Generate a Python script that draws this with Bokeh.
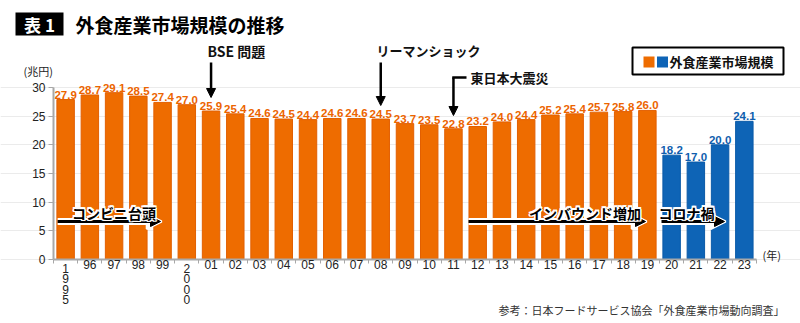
from bokeh.plotting import figure
from bokeh.models import Range1d, FixedTicker, Label, Arrow, NormalHead, ColumnDataSource
from bokeh.embed import file_html
from bokeh.resources import INLINE
from bokeh.core.properties import value

# ---- data ----
years = ["1995", "96", "97", "98", "99", "2000", "01", "02", "03", "04", "05", "06", "07",
         "08", "09", "10", "11", "12", "13", "14", "15", "16", "17", "18", "19",
         "20", "21", "22", "23"]
tick_labels = ["1\n9\n9\n5", "96", "97", "98", "99", "2\n0\n0\n0", "01", "02", "03", "04", "05",
               "06", "07", "08", "09", "10", "11", "12", "13", "14", "15", "16", "17", "18",
               "19", "20", "21", "22", "23"]
market = [27.9, 28.7, 29.1, 28.5, 27.4, 27.0, 25.9, 25.4, 24.6, 24.5, 24.4, 24.6, 24.6,
          24.5, 23.7, 23.5, 22.8, 23.2, 24.0, 24.4, 25.2, 25.4, 25.7, 25.8, 26.0,
          18.2, 17.0, 20.0, 24.1]
covid_years = ["20", "21", "22", "23"]
y_ticks = [0, 5, 10, 15, 20, 25, 30]

ORANGE = "#EE6C00"
ORANGE_EDGE = "#E25F00"
ORANGE_TXT = "#EC6400"
BLUE = "#0E64B6"
BLUE_EDGE = "#0A5AA8"
BLUE_TXT = "#0F5EAE"

JP = "Noto Sans CJK JP"
NUM = "Liberation Sans"

n = len(years)
xs = list(range(n))
is_covid = [y in covid_years for y in years]
vertical = ["\n" in t for t in tick_labels]
src = ColumnDataSource(dict(
    x=xs, v=market,
    label=[f"{v:.1f}" for v in market],
    fill=[BLUE if c else ORANGE for c in is_covid],
    edge=[BLUE_EDGE if c else ORANGE_EDGE for c in is_covid],
    tcol=[BLUE_TXT if c else ORANGE_TXT for c in is_covid],
))
vsrc = ColumnDataSource(dict(
    x=[x for x, vt in zip(xs, vertical) if vt],
    y=[0 for vt in vertical if vt],
    t=[t for t, vt in zip(tick_labels, vertical) if vt],
))

# ---- layout geometry: the frame covers the whole 800x323 canvas ----
W, H = 800, 323
AXIS_LEFT_PX, AXIS_BOTTOM_PX = 53, 259
PX_PER_X = 24.24
PX_PER_Y = 172 / 30.0
X0 = -0.5 - AXIS_LEFT_PX / PX_PER_X
X1 = X0 + W / PX_PER_X
Y0 = -(H - AXIS_BOTTOM_PX) / PX_PER_Y
Y1 = AXIS_BOTTOM_PX / PX_PER_Y


def FX(px):
    return px / PX_PER_X + X0


def FY(py):
    return (H - py) / PX_PER_Y + Y0


p = figure(width=W, height=H, output_backend="svg", toolbar_location=None,
           x_range=Range1d(X0, X1), y_range=Range1d(Y0, Y1),
           min_border=0, min_border_left=0, min_border_right=0, min_border_top=0,
           min_border_bottom=0)
p.outline_line_color = None
p.background_fill_color = "white"
p.border_fill_color = "white"

# grid
p.xgrid.visible = False
p.ygrid.ticker = FixedTicker(ticks=y_ticks)
p.ygrid.grid_line_color = "#ebebeb"
p.ygrid.bounds = (-0.5, n - 0.5)

AXIS_C = "#a8a8a8"
# y axis (drawn inside the full-canvas frame)
p.yaxis.fixed_location = -0.5
p.yaxis.ticker = FixedTicker(ticks=y_ticks)
p.yaxis.bounds = (0, 30)
p.yaxis.axis_line_color = AXIS_C
p.yaxis.axis_line_width = 2
p.yaxis.major_tick_line_color = AXIS_C
p.yaxis.major_tick_out = 5
p.yaxis.major_tick_in = 0
p.yaxis.minor_tick_line_color = None
p.yaxis.major_label_text_font = NUM
p.yaxis.major_label_text_font_size = "12px"
p.yaxis.major_label_text_color = "#222222"
p.yaxis.major_label_standoff = 3

# x axis
p.xaxis.fixed_location = 0
p.xaxis.ticker = FixedTicker(ticks=xs, minor_ticks=[i - 0.5 for i in range(n + 1)])
p.xaxis.bounds = (-0.5, n - 0.5)
p.xaxis.major_label_overrides = {i: ("" if vt else t)
                                 for i, (t, vt) in enumerate(zip(tick_labels, vertical))}
p.xaxis.axis_line_color = AXIS_C
p.xaxis.axis_line_width = 2
p.xaxis.major_tick_line_color = None
p.xaxis.major_tick_out = 0
p.xaxis.major_tick_in = 0
p.xaxis.minor_tick_line_color = AXIS_C
p.xaxis.minor_tick_out = 4
p.xaxis.minor_tick_in = 0
p.xaxis.major_label_text_font = NUM
p.xaxis.major_label_text_font_size = "12px"
p.xaxis.major_label_text_color = "#222222"
p.xaxis.major_label_standoff = -4

# vertical year labels (1995, 2000) stacked digit by digit
p.text(x="x", y="y", text="t", source=vsrc, text_align="center", text_baseline="top",
       y_offset=2, text_font=value(NUM), text_font_size="12px", text_color="#222222",
       text_line_height=0.76)

# bars
p.vbar(x="x", top="v", width=0.72, fill_color="fill", line_color="edge", line_width=1, source=src)

# value labels
p.text(x="x", y="v", text="label", text_color="tcol", text_align="center",
       text_baseline="bottom", y_offset=-1,
       text_font=value("Liberation Sans Narrow, Liberation Sans"),
       text_font_style="bold", text_font_size="11.5px", source=src)

# ---- horizontal trend arrows with white halo ----
ARROW_Y = FY(221)
HALO = [(-1.5, 0), (1.5, 0), (0, -1.5), (0, 1.5), (-1.2, -1.2), (1.2, -1.2), (-1.2, 1.2), (1.2, 1.2)]
trend = [(-0.33, FX(160), "コンビニ台頭", FX(113.5)),
         (FX(468), FX(645), "インバウンド増加", FX(584.5)),
         (FX(661), FX(724), "コロナ禍", FX(686))]
for xs0, xs1, txt, tx in trend:
    p.add_layout(Arrow(x_start=xs0, y_start=ARROW_Y, x_end=xs1 + 0.05, y_end=ARROW_Y,
                       line_color="white", line_width=7,
                       end=NormalHead(size=15, fill_color="white", line_color="white", line_width=2)))
    p.add_layout(Arrow(x_start=xs0, y_start=ARROW_Y, x_end=xs1, y_end=ARROW_Y,
                       line_color="black", line_width=3,
                       end=NormalHead(size=10, fill_color="black", line_color="black")))
    for dx, dy in HALO:
        p.add_layout(Label(x=tx, y=FY(212), x_offset=dx, y_offset=dy, text=txt,
                           text_align="center", text_baseline="middle",
                           text_font=JP, text_font_style="bold", text_font_size="14px",
                           text_color="white"))
    p.add_layout(Label(x=tx, y=FY(212), text=txt, text_align="center", text_baseline="middle",
                       text_font=JP, text_font_style="bold", text_font_size="14px",
                       text_color="black"))

# ---- event annotations ----
EV_Y = FY(50)
p.add_layout(Label(x=FX(207), y=EV_Y, text="BSE 問題", text_baseline="middle",
                   text_font=JP, text_font_style="bold", text_font_size="14px", text_color="#111111"))
p.add_layout(Arrow(x_start=6, y_start=FY(62), x_end=6, y_end=FY(97), line_width=2.5,
                   end=NormalHead(size=9, fill_color="black", line_color="black")))

p.add_layout(Label(x=FX(376), y=EV_Y, text="リーマンショック", text_baseline="middle",
                   text_font=JP, text_font_style="bold", text_font_size="13px", text_color="#111111"))
p.add_layout(Arrow(x_start=13, y_start=FY(62), x_end=13, y_end=FY(105), line_width=2.5,
                   end=NormalHead(size=9, fill_color="black", line_color="black")))

QY = FY(77)
p.add_layout(Label(x=FX(470), y=QY, text="東日本大震災", text_baseline="middle",
                   text_font=JP, text_font_style="bold", text_font_size="13px", text_color="#111111"))
p.add_layout(Arrow(x_start=FX(466), y_start=QY, x_end=16 - 0.05, y_end=QY, line_width=2.5, end=None))
p.add_layout(Arrow(x_start=16, y_start=QY, x_end=16, y_end=FY(115), line_width=2.5,
                   end=NormalHead(size=9, fill_color="black", line_color="black")))

# ---- legend (custom) ----
p.rect(x=[FX(707.5)], y=[FY(60.5)], width=151, height=27, width_units="screen",
       height_units="screen", fill_color="white", line_color="black", line_width=2)
p.rect(x=[FX(648.5), FX(662)], y=[FY(61.5), FY(61.5)], width=11, height=11,
       width_units="screen", height_units="screen", fill_color=[ORANGE, BLUE], line_color=None)
p.add_layout(Label(x=FX(669), y=FY(61), text="外食産業市場規模", text_baseline="middle",
                   text_font=JP, text_font_style="bold", text_font_size="13px", text_color="#111111"))

# ---- titles and units ----
p.rect(x=[FX(39)], y=[FY(23.5)], width=48, height=23, width_units="screen",
       height_units="screen", fill_color="black", line_color=None)
p.add_layout(Label(x=FX(39), y=FY(24), text="表 1", text_align="center", text_baseline="middle",
                   text_font=JP, text_font_style="bold", text_font_size="17px", text_color="white"))
p.add_layout(Label(x=FX(75), y=FY(24), text="外食産業市場規模の推移", text_baseline="middle",
                   text_font=JP, text_font_style="bold", text_font_size="19px", text_color="black"))
p.add_layout(Label(x=FX(23), y=FY(70), text="(兆円)", text_baseline="middle",
                   text_font=JP, text_font_size="11px", text_color="#222222"))
p.add_layout(Label(x=FX(762), y=FY(254), text="(年)", text_baseline="middle",
                   text_font=JP, text_font_size="11px", text_color="#222222"))
p.add_layout(Label(x=FX(784), y=FY(309), text="参考：日本フードサービス協会「外食産業市場動向調査」",
                   text_align="right", text_baseline="middle",
                   text_font=JP, text_font_size="11px", text_color="#333333"))

open("out.html", "w").write(file_html(p, INLINE))
